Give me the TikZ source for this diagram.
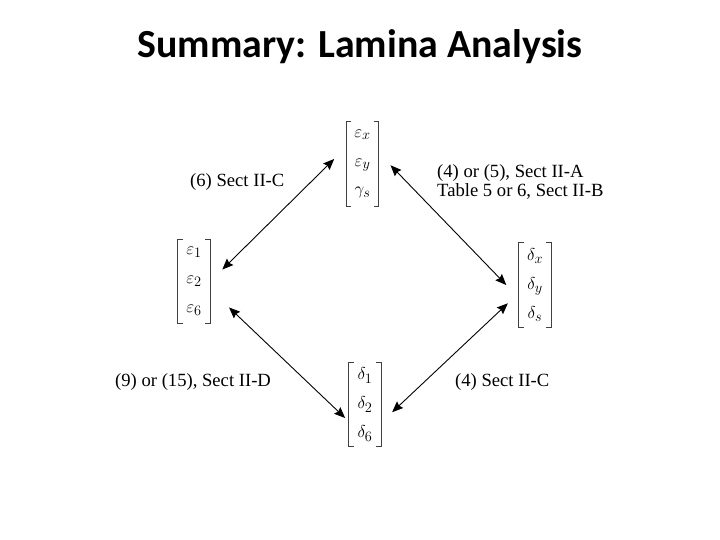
\documentclass[tikz,border=0pt]{standalone}
\usepackage{amsmath}
\usepackage{fontspec}
\setmainfont{Liberation Serif}
\newfontfamily\titlefont{Carlito}
\usetikzlibrary{arrows.meta}
\tikzset{
  vec/.style={
    minimum width=32bp,
    minimum height=84bp,
    inner sep=0pt,
    align=center,
    font=\fontsize{19}{29}\selectfont
  },
  brk/.style={
    draw=black!75,
    line width=0.8bp
  },
  lbl/.style={
    align=left,
    inner sep=0pt,
    font=\fontsize{18.7}{20}\selectfont
  },
  arrow/.style={
    {Stealth[length=11bp,width=9bp,inset=1.5bp]}-{Stealth[length=11bp,width=9bp,inset=1.5bp]},
    line width=0.9bp,
    black
  }
}

\begin{document}
\begin{tikzpicture}[x=1bp,y=-1bp]
\useasboundingbox (0,0) rectangle (720,540);
\node[font=\titlefont\bfseries\fontsize{40}{44}\selectfont, anchor=base] (title) at (360,58) {Summary: Lamina Analysis};
% the four vectors
\node[vec] (exy) at (362.5,164) {$\varepsilon_x$\\$\varepsilon_y$\\$\gamma_s$};
\node[vec] (e126) at (194,281.5) {$\varepsilon_1$\\$\varepsilon_2$\\$\varepsilon_6$};
\node[vec] (dxy) at (535,285) {$\delta_x$\\$\delta_y$\\$\delta_s$};
\node[vec] (d126) at (365,404.5) {$\delta_1$\\$\delta_2$\\$\delta_6$};
\foreach \v in {exy,e126,dxy,d126} {
  \draw[brk] ([xshift=5bp]\v.north west) -- (\v.north west) -- (\v.south west) -- ([xshift=5bp]\v.south west);
  \draw[brk] ([xshift=-5bp]\v.north east) -- (\v.north east) -- (\v.south east) -- ([xshift=-5bp]\v.south east);
}
% labels
\node[lbl, anchor=west] (lc) at (190,182) {(6) Sect II-C};
\node[lbl, anchor=west] (la) at (437,182) {(4) or (5), Sect II-A\\Table 5 or 6, Sect II-B};
\node[lbl, anchor=west] (ld) at (115,382) {(9) or (15), Sect II-D};
\node[lbl, anchor=west] (lc2) at (455,382) {(4) Sect II-C};
% arrows
\draw[arrow, shorten <=17bp, shorten >=17bp] ([yshift=17bp]exy.west) -- (e126.east);
\draw[arrow, shorten <=17bp, shorten >=18bp] ([yshift=11bp]exy.east) -- ([yshift=-13bp]dxy.west);
\draw[arrow, shorten <=26bp, shorten >=5bp] ([yshift=-8bp]e126.east) -- ([yshift=-17bp]d126.west);
\draw[arrow, shorten <=15bp, shorten >=15bp] ([yshift=-8bp]dxy.west) -- ([yshift=-18bp]d126.east);
\end{tikzpicture}
\end{document}
